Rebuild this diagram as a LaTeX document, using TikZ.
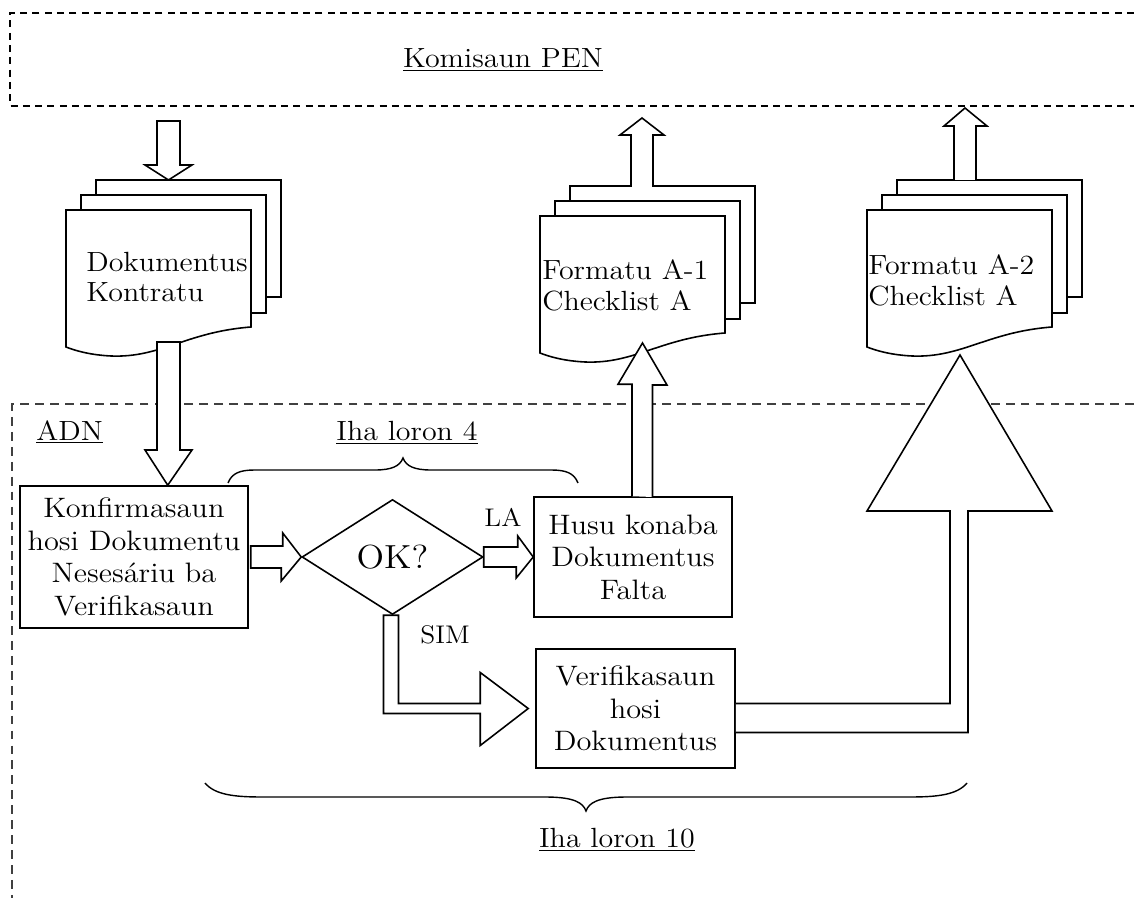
\documentclass[tikz,border=0pt]{standalone}
\usepackage{fontspec}
\setmainfont{lmroman12-regular.otf}[FakeStretch=1.08]
\usetikzlibrary{shapes.geometric,calc}

\newcommand\txtbox{\fontsize{16}{18.5}\selectfont}
\newcommand\txthead{\fontsize{15.8}{18.5}\selectfont}
\newcommand\txtdoc{\fontsize{15.8}{17.6}\selectfont}
\newcommand\txtok{\fontsize{19}{21}\selectfont}
\newcommand\txttag{\fontsize{14.5}{16}\selectfont}

\tikzset{
  px/.style={x=0.02cm,y=-0.02cm},
  ln/.style={line width=0.9pt, line join=miter, miter limit=10},
  blockarrow/.style={ln, draw, fill=white},
  sheet/.style={ln, draw, fill=white},
  procbox/.style={ln, draw, fill=white, rectangle, align=center, inner sep=0pt, font=\txtbox},
  decision/.style={ln, draw, fill=white, diamond, inner sep=0pt, font=\txtok},
  doctext/.style={align=left, inner sep=0pt, font=\txtdoc, anchor=west},
  heading/.style={inner sep=0pt, font=\txthead},
  tag/.style={inner sep=0pt, font=\txttag},
  zonetop/.style={line width=1pt, dash pattern=on 4pt off 3pt},
  zoneadn/.style={line width=0.75pt, dash pattern=on 5pt off 3.5pt, black!75},
  brace/.style={line width=0.8pt},
}

% a stack of three sheets with a wavy front sheet
% #1 extra text options, #2 name, #3 left, #4 top, #5/#6 text offset, #7 text
\newcommand\docstack[7][]{%
  \begin{scope}[shift={(#3,#4)}]
    \draw[sheet] (30,-30) rectangle (215,87);
    \draw[sheet] (15,-15) rectangle (200,103);
    \draw[sheet] (0,0) -- (185,0) -- (185,117)
      .. controls (120,122) and (95,148) .. (45,146)
      .. controls (25,145) and (10,141) .. (0,137) -- cycle;
    \node[doctext,#1] (#2) at (#5,#6) {#7};
  \end{scope}}

\begin{document}
\begin{tikzpicture}[px]
\useasboundingbox (0,0) rectangle (1134,898);

% zones
\draw[zonetop] (1134,13) -- (10,13) -- (10,106) -- (1134,106);
\draw[zoneadn] (1134,404) -- (12,404) -- (12,898);

\node[heading] (komisaun) at (503,60) {\underline{Komisaun PEN}};
\node[heading, anchor=west] (adn) at (36,432) {\underline{ADN}};
\node[heading] (loron4) at (407,433) {\underline{Iha loron 4}};
\node[heading] (loron10) at (617,840) {\underline{Iha loron 10}};

% document stacks
\docstack{docA}{66}{210}{20}{67}{Dokumentus\\Kontratu}
\docstack{docB}{540}{216}{2}{69}{Formatu A-1\\Checklist A}
\docstack{docC}{867}{210}{1}{70}{Formatu A-2\\Checklist A}

% process steps
\node[procbox, minimum width=4.56cm, minimum height=2.84cm] (konf) at (134,557)
  {Konfirmasaun\\hosi Dokumentu\\Nesesáriu ba\\Verifikasaun};
\node[decision, minimum width=3.62cm, minimum height=2.3cm] (ok) at (392.5,557) {OK?};
\node[procbox, minimum width=3.96cm, minimum height=2.4cm] (husu) at (633,557)
  {Husu konaba\\Dokumentus\\Falta};
\node[procbox, minimum width=3.98cm, minimum height=2.38cm] (verif) at (635.5,708.5)
  {Verifikasaun\\hosi\\Dokumentus};

\node[tag] (la) at (503,517) {LA};
\node[tag] (sim) at (445,635) {SIM};

% block arrows
\coordinate (inA) at (168.5,180);
\draw[blockarrow] (157,121) -- (180,121) -- (180,165) -- (192,165) -- (inA)
  -- (145,165) -- (157,165) -- cycle;

\coordinate (konfIn) at ($(konf.north west)+(148.5,0)$);
\draw[blockarrow] (157,342) -- (180,342) -- (180,450) -- (192,450) -- (konfIn)
  -- (145,450) -- (157,450) -- cycle;

\draw[blockarrow] ($(konf.east)+(2,-11)$) -- ++(32,0) -- ++(0,-13) -- (ok.west)
  -- ++(-20,24) -- ++(0,-13) -- ($(konf.east)+(2,11)$) -- cycle;

\draw[blockarrow] ($(ok.east)+(0,-10)$) -- ++(34,0) -- ++(0,-11) -- (husu.west)
  -- ++(-17,21) -- ++(0,-11) -- ($(ok.east)+(0,10)$) -- cycle;

\coordinate (simA) at ($(ok.south)+(-9,0)$);
\coordinate (simTip) at ($(verif.west)+(-7,0)$);
\draw[blockarrow] (simA) -- ++(15,0) |- ($(simTip)+(-48,-5)$) -- ++(0,-31)
  -- (simTip) -- ++(-48,37) -- ++(0,-32) -| (simA) -- cycle;

\coordinate (tipB) at (642.5,343);
\draw[blockarrow] ($(husu.north)+(-1,0)$) -- ++(0,-112) -- ++(-14,0) -- (tipB)
  -- ++(24.5,42) -- ++(-14.5,0) -- ++(0,112);

\draw[blockarrow] (631,187) -- (631,135) -- (620,135) -- (642,118) -- (664,135)
  -- (653,135) -- (653,187);

\draw[blockarrow] (954,180) -- (954,126) -- (944,126) -- (965,108) -- (987,126)
  -- (976,126) -- (976,180);

\coordinate (tipC) at (960,355);
\draw[blockarrow] ($(verif.east)+(0,-5)$) -| (950,511) -- (867,511) -- (tipC)
  -- (1052,511) -- (968,511) |- ($(verif.east)+(0,24)$);

% braces
\draw[brace] (228,483) .. controls (232,473) and (240,470) .. (255,470) -- (375,470)
  .. controls (392,470) and (400,466) .. (403,458)
  .. controls (406,466) and (414,470) .. (431,470) -- (551,470)
  .. controls (566,470) and (574,473) .. (578,483);
\draw[brace] (205,783) .. controls (215,795) and (235,797) .. (262,797) -- (545,797)
  .. controls (575,797) and (583,803) .. (586,811)
  .. controls (589,803) and (597,797) .. (627,797) -- (910,797)
  .. controls (937,797) and (957,795) .. (967,783);
\end{tikzpicture}
\end{document}
